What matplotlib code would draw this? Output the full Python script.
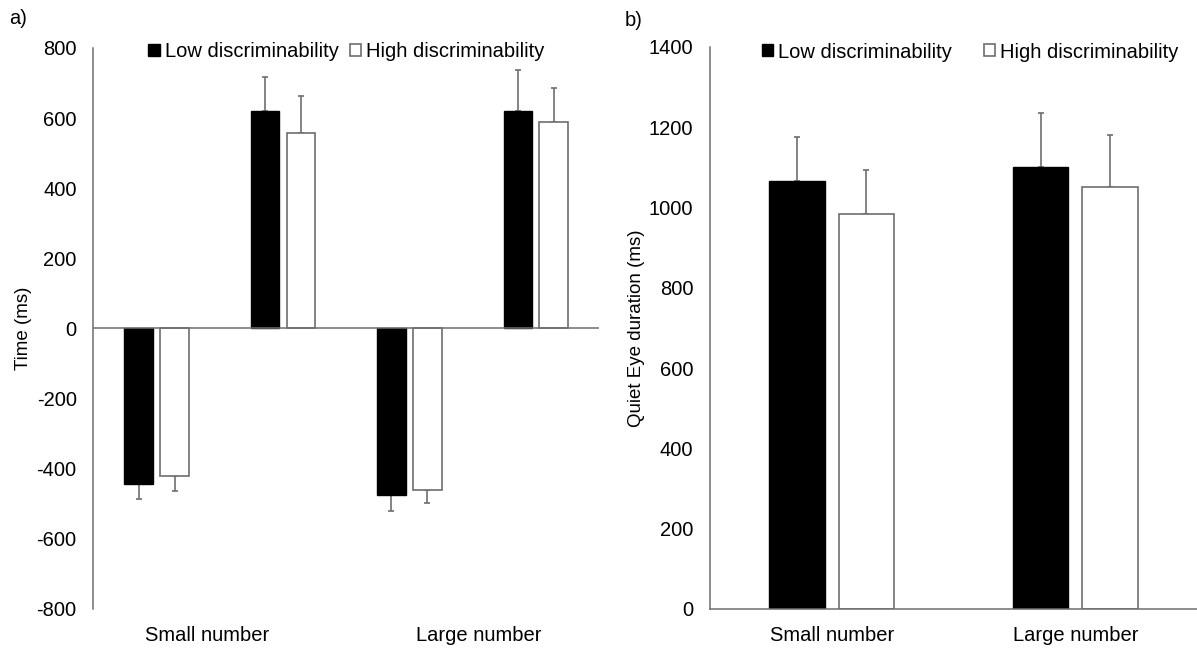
import numpy as np
from matplotlib import pyplot as plt

plt.rcParams['font.family'] = ['Liberation Sans', 'DejaVu Sans']
plt.rcParams['axes.unicode_minus'] = False

# panel a: onset (negative) and offset (positive) bars for each number size
a_groups = ["Small number", "Large number"]
a_low = [-443, 621, -476, 619]
a_high = [-421, 557, -460, 589]
a_low_err = [42, 95, 44, 117]
a_high_err = [42, 105, 38, 96]

# panel b: quiet eye duration
b_groups = ["Small number", "Large number"]
b_low = [1067, 1100]
b_high = [983, 1052]
b_low_err = [109, 135]
b_high_err = [110, 130]

series_names = ["Low discriminability", "High discriminability"]

GREY = "#6e6e6e"
W = 0.228
OFF = 0.142


def one_sided(vals, errs):
    # error bar only points away from zero, like the excel original
    lo = [e if v < 0 else 0 for v, e in zip(vals, errs)]
    hi = [e if v >= 0 else 0 for v, e in zip(vals, errs)]
    return [lo, hi]


def draw_bars(ax, low, high, low_err, high_err):
    x = np.arange(len(low))
    ax.bar(x - OFF, low, W, color="black", edgecolor="black", label=series_names[0], zorder=3)
    ax.bar(x + OFF, high, W, color="white", edgecolor=GREY, linewidth=1.2,
           label=series_names[1], zorder=3)
    # errorbars drawn underneath so the zero-length cap hides behind the bar end
    for xs, vals, errs in ((x - OFF, low, low_err), (x + OFF, high, high_err)):
        ax.errorbar(xs, vals, yerr=one_sided(vals, errs), fmt="none", ecolor=GREY,
                    elinewidth=1.2, capsize=2.3, capthick=1.2, zorder=1)
    for side in ("top", "right"):
        ax.spines[side].set_visible(False)
    for side in ("left", "bottom"):
        ax.spines[side].set_color(GREY)
        ax.spines[side].set_linewidth(1.1)
        ax.spines[side].set_zorder(4)
    ax.tick_params(axis="both", length=0, labelsize=14.5)
    ax.tick_params(axis="y", pad=12)
    ax.tick_params(axis="x", pad=12)


fig = plt.figure(figsize=(11.97, 6.5), dpi=100)

ax_a = fig.add_axes([0.078, 0.0631, 0.4225, 0.8631])
draw_bars(ax_a, a_low, a_high, a_low_err, a_high_err)
ax_a.set_xlim(-0.5, 3.5)
ax_a.set_ylim(-800, 800)
ax_a.set_yticks(np.arange(-800, 801, 200))
# zero line instead of a bottom spine, labels stay under the plot
ax_a.spines["bottom"].set_visible(False)
ax_a.axhline(0, color=GREY, linewidth=1.1, zorder=4)
ax_a.set_xticks([0.4, 2.55], a_groups)
ax_a.set_ylabel("Time (ms)", fontsize=13.5)
ax_a.yaxis.set_label_coords(-0.122, 0.5)
ax_a.legend(loc="center", bbox_to_anchor=(0.5, 0.994), ncol=2, frameon=False, fontsize=14.5,
            handlelength=0.55, handleheight=0.55, handletextpad=0.25, columnspacing=0.55,
            borderaxespad=0, borderpad=0)

ax_b = fig.add_axes([0.5932, 0.0631, 0.4068, 0.8646])
draw_bars(ax_b, b_low, b_high, b_low_err, b_high_err)
ax_b.set_xlim(-0.5, 1.5)
ax_b.set_ylim(0, 1400)
ax_b.set_yticks(np.arange(0, 1401, 200))
ax_b.set_xticks(np.arange(len(b_groups)), b_groups)
ax_b.set_ylabel("Quiet Eye duration (ms)", fontsize=13.5)
ax_b.yaxis.set_label_coords(-0.133, 0.5)
ax_b.legend(loc="center", bbox_to_anchor=(0.534, 0.991), ncol=2, frameon=False, fontsize=14.5,
            handlelength=0.55, handleheight=0.55, handletextpad=0.25, columnspacing=1.6,
            borderaxespad=0, borderpad=0)

fig.text(0.008, 0.971, "a)", fontsize=14.5, va="center")
fig.text(0.522, 0.969, "b)", fontsize=14.5, va="center")

plt.savefig("out.png", dpi=100)
